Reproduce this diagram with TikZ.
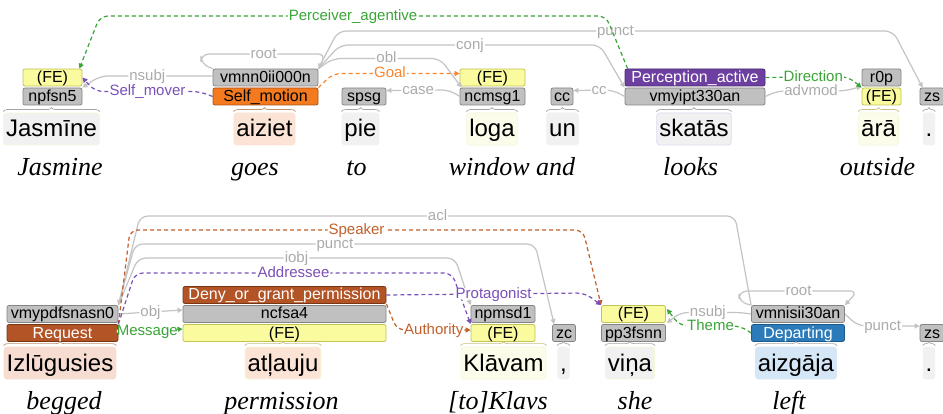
\documentclass[tikz,border=0pt]{standalone}
\usepackage{fontspec}
\setmainfont{Liberation Serif}
\setsansfont{Liberation Sans}
\usetikzlibrary{arrows.meta,decorations.pathreplacing,calc}
\definecolor{gfill}{HTML}{C0C0C0}
\definecolor{gdraw}{HTML}{858585}
\definecolor{yfill}{HTML}{FAFA9E}
\definecolor{ydraw}{HTML}{C2C255}
\definecolor{ofill}{HTML}{F47A20}
\definecolor{odraw}{HTML}{A9520F}
\definecolor{pfill}{HTML}{6C3FA0}
\definecolor{pdraw}{HTML}{4A2A72}
\definecolor{bfill}{HTML}{B25426}
\definecolor{bdraw}{HTML}{7A3512}
\definecolor{blfill}{HTML}{2B7BBA}
\definecolor{bldraw}{HTML}{1C5A8C}
\definecolor{arcgray}{HTML}{C4C4C4}
\definecolor{labgray}{HTML}{ABABAB}
\definecolor{cgreen}{HTML}{3AA537}
\definecolor{cpurple}{HTML}{7A50B8}
\definecolor{corange}{HTML}{F7862F}
\definecolor{cbrown}{HTML}{C2602A}
\definecolor{bracegray}{HTML}{A5A5A5}
\definecolor{braceolive}{HTML}{C8C080}
\definecolor{bracebrown}{HTML}{C09070}
\definecolor{wgray}{HTML}{F1F1F1}
\definecolor{wyelb}{HTML}{F6F6D8}
\definecolor{wyel}{HTML}{FCFCEB}
\definecolor{wpeach}{HTML}{FBE3D5}
\definecolor{wpeach2}{HTML}{F7DDD1}
\definecolor{wpurb}{HTML}{E0D8F0}
\definecolor{wblue}{HTML}{D5E7F6}
\tikzset{
  box/.style={draw, rounded corners=2pt, line width=0.8pt, inner sep=0pt,
    minimum height=17pt, font=\sffamily\fontsize{16}{18}\selectfont,
    text height=12.5pt, text depth=2.5pt},
  graybox/.style={box, fill=gfill, draw=gdraw},
  febox/.style={box, fill=yfill, draw=ydraw},
  orbox/.style={box, fill=ofill, draw=odraw},
  pubox/.style={box, fill=pfill, draw=pdraw, text=white},
  brbox/.style={box, fill=bfill, draw=bdraw, text=white},
  blbox/.style={box, fill=blfill, draw=bldraw, text=white},
  word/.style={anchor=base, rounded corners=3pt, inner xsep=2.5pt, inner ysep=2pt,
    text height=22pt, text depth=6pt, font=\sffamily\fontsize{24}{28}\selectfont,
    line width=0.8pt},
  gloss/.style={anchor=base, font=\itshape\fontsize{26}{30}\selectfont},
  arcg/.style={draw=arcgray, line width=1.2pt, rounded corners=8pt,
    -{Triangle[length=5pt,width=5pt]}},
  lab/.style={fill=white, inner xsep=1pt, inner ysep=0pt,
    font=\sffamily\fontsize{15}{17}\selectfont, text height=10pt, text depth=1.5pt},
  glab/.style={lab, text=labgray},
  dsh/.style={line width=1.2pt, dash pattern=on 4pt off 3pt, rounded corners=8pt,
    -{Triangle[length=5pt,width=5pt]}},
  brc/.style={line width=0.7pt, decorate, decoration={brace, amplitude=4pt, raise=1pt}},
}
\begin{document}
\begin{tikzpicture}[x=1pt,y=-1pt]
\useasboundingbox (0,0) rectangle (943,414);
\fill[white] (0,0) rectangle (943,414);

% ---------- sentence 1: boxes ----------
\node[febox, minimum width=59pt] (fe1) at (52.5,77.5) {(FE)};
\node[graybox, minimum width=59pt] (t1) at (52.5,96.5) {npfsn5};
\node[graybox, minimum width=105pt] (t2) at (265.5,77.5) {vmnn0ii000n};
\node[orbox, minimum width=105pt] (f2) at (265.5,96.5) {Self\_motion};
\node[graybox, minimum width=44pt] (t3) at (364,96.5) {spsg};
\node[febox, minimum width=65pt] (fe4) at (492.5,77.5) {(FE)};
\node[graybox, minimum width=65pt] (t4) at (492.5,96.5) {ncmsg1};
\node[graybox, minimum width=22pt] (t5) at (562,96.5) {cc};
\node[pubox, minimum width=140pt] (f6) at (695,77.5) {Perception\_active};
\node[graybox, minimum width=140pt] (t6) at (695,96.5) {vmyipt330an};
\node[graybox, minimum width=39pt] (t7) at (881.5,77.5) {r0p};
\node[febox, minimum width=39pt] (fe7) at (881.5,96.5) {(FE)};
\node[graybox, minimum width=24pt] (t8) at (932,96.5) {zs};

% ---------- sentence 1: words ----------
\node[word, fill=wgray, draw=wyelb] (w1) at (51.5,137) {Jasmīne};
\node[word, fill=wpeach, draw=wpeach] (w2) at (264.5,137) {aiziet};
\node[word, fill=wgray, draw=wgray] (w3) at (360.5,137) {pie};
\node[word, fill=wyel, draw=wyelb] (w4) at (492,137) {loga};
\node[word, fill=wgray, draw=wgray] (w5) at (562.5,137) {un};
\node[word, fill=wgray, draw=wpurb] (w6) at (694,137) {skatās};
\node[word, fill=wyel, draw=wyelb] (w7) at (878.5,137) {ārā};
\node[word, fill=wgray, draw=wgray] (w8) at (929,137) {.};

\draw[brc, draw=bracegray] (w1.north west) -- (w1.north east);
\draw[brc, draw=bracebrown] (w2.north west) -- (w2.north east);
\draw[brc, draw=bracegray] (w3.north west) -- (w3.north east);
\draw[brc, draw=bracegray] (w4.north west) -- (w4.north east);
\draw[brc, draw=bracegray] (w5.north west) -- (w5.north east);
\draw[brc, draw=bracegray] (w6.north west) -- (w6.north east);
\draw[brc, draw=braceolive] (w7.north west) -- (w7.north east);
\draw[brc, draw=bracegray] (w8.north west) -- (w8.north east);

% ---------- sentence 1: glosses ----------
\node[gloss] (g1) at (60,176) {Jasmine};
\node[gloss] (g2) at (255,176) {goes};
\node[gloss] (g3) at (356.5,176) {to};
\node[gloss] (g4) at (512,176) {window and};
\node[gloss] (g6) at (690.5,176) {looks};
\node[gloss] (g7) at (877.5,176) {outside};

% ---------- sentence 1: arcs ----------
\draw[arcg] (t2.north east) -- (338,31) -- node[glab]{punct} (893,31) -- ([xshift=3pt]t8.north west);
\draw[arcg] (t2.north east) -- (340,45) -- node[glab]{conj} (600,45) -- (t6.north west);
\draw[arcg] (t2.north east) -- (333,58.5) -- node[glab]{obl} (440,58.5) -- ([xshift=2pt]t4.north west);
\draw[arcg] (t2.north west) -- (201,64) -- (201,54) -- node[glab]{root} (326,54) -- (t2.north east);
\draw[arcg] ($(t2.west)+(0,-1.5)$) -- node[glab, pos=0.58]{nsubj} (100,76) -- (t1.north east);
\draw[arcg] (t4.west) -- (450,90) -- node[glab]{case} ($(t3.east)+(0,-6)$);
\draw[arcg] (t6.west) -- (613,90) -- node[glab, pos=0.35]{cc} ($(t5.east)+(0,-6)$);
\draw[arcg] (t6.east) -- (777,91) -- node[glab]{advmod} (845,91) -- (t7.south west);

\draw[dsh, draw=cgreen] ([xshift=3pt]f6.north west) -- (606,16) -- node[lab, text=cgreen]{Perceiver\_agentive} (100,16) -- ([xshift=-3pt]fe1.north east);
\draw[dsh, draw=corange] (f2.north east) -- (333,73.5) -- node[lab, text=corange, pos=0.45]{Goal} ($(fe4.west)+(0,-4)$);
\draw[dsh, draw=cpurple] (f2.west) -- (200,91.5) -- node[lab, text=cpurple]{Self\_mover} (95,91.5) -- (fe1.east);
\draw[dsh, draw=cgreen] (f6.east) -- node[lab, text=cgreen, pos=0.58]{Direction} (848,76.5) -- (fe7.north west);

% ---------- sentence 2: boxes ----------
\node[graybox, minimum width=111pt] (t9) at (62.5,314) {vmypdfsnasn0};
\node[brbox, minimum width=111pt] (f9) at (62.5,333) {Request};
\node[brbox, minimum width=203pt] (f10) at (284.5,295) {Deny\_or\_grant\_permission};
\node[graybox, minimum width=203pt] (t10) at (284.5,314) {ncfsa4};
\node[febox, minimum width=203pt] (fe10) at (284.5,333) {(FE)};
\node[graybox, minimum width=64pt] (t11) at (503,314) {npmsd1};
\node[febox, minimum width=64pt] (fe11) at (503,333) {(FE)};
\node[graybox, minimum width=23pt] (t12) at (564,333) {zc};
\node[febox, minimum width=64pt] (fe13) at (633.5,314) {(FE)};
\node[graybox, minimum width=64pt] (t13) at (633.5,333) {pp3fsnn};
\node[graybox, minimum width=93pt] (t14) at (798,314) {vmnisii30an};
\node[blbox, minimum width=93pt] (f14) at (798,333) {Departing};
\node[graybox, minimum width=24pt] (t15) at (932,333) {zs};

% ---------- sentence 2: words ----------
\node[word, fill=wpeach2, draw=wpeach2] (v1) at (60,371) {Izlūgusies};
\node[word, fill=wpeach, draw=wyelb] (v2) at (283,371) {atļauju};
\node[word, fill=wyel, draw=wyelb] (v3) at (503.5,371) {Klāvam};
\node[word, fill=wgray, draw=wgray] (v4) at (563.5,371) {,};
\node[word, fill=wgray, draw=wyelb] (v5) at (630,371) {viņa};
\node[word, fill=wblue, draw=wblue] (v6) at (796,371) {aizgāja};
\node[word, fill=wgray, draw=wgray] (v7) at (929,371) {.};

\draw[brc, draw=bracebrown] (v1.north west) -- (v1.north east);
\draw[brc, draw=braceolive] (v2.north west) -- (v2.north east);
\draw[brc, draw=braceolive] (v3.north west) -- (v3.north east);
\draw[brc, draw=bracegray] (v4.north west) -- (v4.north east);
\draw[brc, draw=bracegray] (v5.north west) -- (v5.north east);
\draw[brc, draw=bracegray] (v6.north west) -- (v6.north east);
\draw[brc, draw=bracegray] (v7.north west) -- (v7.north east);

% ---------- sentence 2: glosses ----------
\node[gloss] (h1) at (64,409) {begged};
\node[gloss] (h2) at (281.5,409) {permission};
\node[gloss] (h3) at (498,409) {[to]Klavs};
\node[gloss] (h5) at (635,409) {she};
\node[gloss] (h6) at (789,409) {left};

% ---------- sentence 2: arcs ----------
\draw[arcg] (t14.north west) -- (735,216) -- node[glab]{acl} (140,216) -- (t9.north east);
\draw[arcg] (t9.north east) -- (135,244) -- node[glab]{punct} (535,244) -- ([xshift=2pt]t12.north west);
\draw[arcg] (t9.north east) -- (138,258) -- node[glab]{iobj} (455,258) -- (t11.north west);
\draw[arcg] (t9.east) -- node[glab]{obj} ($(t10.west)+(0,-4)$);
\draw[arcg] (t14.west) -- (742,312.5) -- node[glab, pos=0.55]{nsubj} (680,312.5) -- ($(t13.north east)+(1,-1)$);
\draw[arcg] (t14.north west) -- (739,302) -- (739,291) -- node[glab]{root} (858,291) -- (t14.north east);
\draw[arcg] (t14.east) -- (858,326) -- node[glab, pos=0.4]{punct} ($(t15.west)+(0,-7)$);

\draw[dsh, draw=cbrown] (f9.north east) -- (130,230) -- node[lab, text=cbrown]{Speaker} (583,230) -- (fe13.north west);
\draw[dsh, draw=cpurple] (f9.north east) -- (135,273) -- node[lab, text=cpurple]{Addressee} (452,273) -- (fe11.north west);
\draw[dsh, draw=cpurple] (f10.east) -- node[lab, text=cpurple, pos=0.54]{Protagonist} (585,293) -- (fe13.north west);
\draw[dsh, draw=cbrown] (f10.south east) -- (397,330) -- node[lab, text=cbrown]{Authority} ($(fe11.west)+(0,-3)$);
\draw[dsh, draw=cgreen] (f9.east) -- node[lab, text=cgreen, inner xsep=0pt, pos=0.45]{Message} ($(fe10.west)+(0,-4)$);
\draw[dsh, draw=cgreen] (f14.west) -- (741,326) -- node[lab, text=cgreen]{Theme} (680,326) -- ($(fe13.east)+(1,-5)$);
\end{tikzpicture}
\end{document}
